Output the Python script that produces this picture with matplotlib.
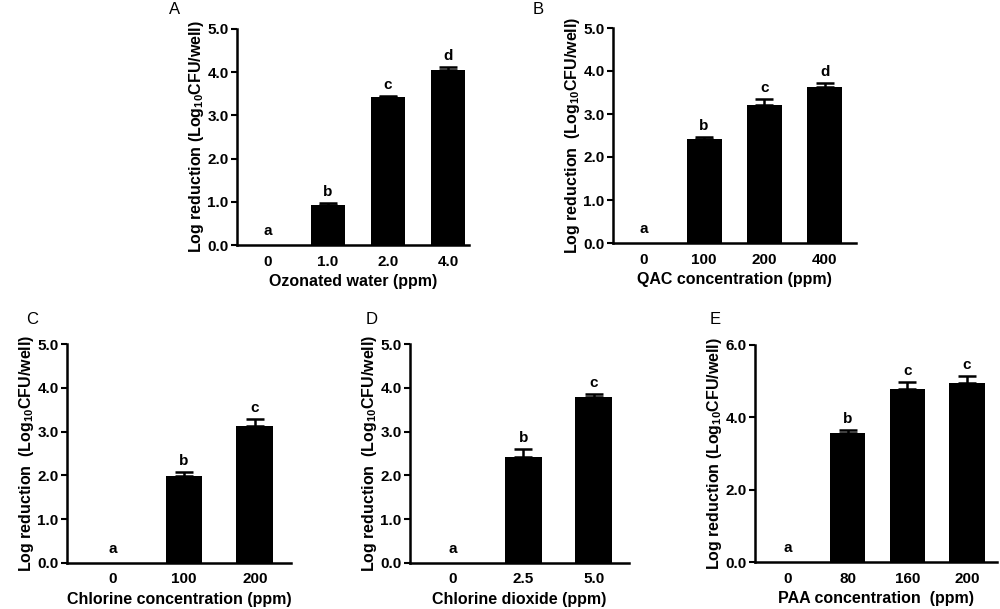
import matplotlib
matplotlib.use("Agg")
import matplotlib.pyplot as plt
import numpy as np

plt.rcParams['font.family'] = ['Liberation Sans', 'DejaVu Sans']
plt.rcParams['font.weight'] = 'bold'
plt.rcParams['mathtext.fontset'] = 'custom'
plt.rcParams['mathtext.rm'] = 'Liberation Sans:bold'
plt.rcParams['mathtext.bf'] = 'Liberation Sans:bold'

# panel data
cats_A = ['0', '1.0', '2.0', '4.0']
mean_A = [0, 0.93, 3.42, 4.06]
err_A = [0, 0.05, 0.03, 0.07]
sig_A = ['a', 'b', 'c', 'd']

cats_B = ['0', '100', '200', '400']
mean_B = [0, 2.43, 3.22, 3.62]
err_B = [0, 0.04, 0.12, 0.09]
sig_B = ['a', 'b', 'c', 'd']

cats_C = ['0', '100', '200']
mean_C = [0, 1.99, 3.13]
err_C = [0, 0.08, 0.15]
sig_C = ['a', 'b', 'c']

cats_D = ['0', '2.5', '5.0']
mean_D = [0, 2.41, 3.80]
err_D = [0, 0.20, 0.06]
sig_D = ['a', 'b', 'c']

cats_E = ['0', '80', '160', '200']
mean_E = [0, 3.58, 4.77, 4.96]
err_E = [0, 0.06, 0.20, 0.18]
sig_E = ['a', 'b', 'c', 'c']

W, H = 1000, 609
fig = plt.figure(figsize=(10, 6.09), dpi=100)


def panel(px_left, px_right, px_y0, px_ytop, xlim, width, cats, means, errs, sig,
          ymax, ystep, xlabel, ylabel, letter, letter_xy):
    ax = fig.add_axes([px_left / W, 1 - px_y0 / H, (px_right - px_left) / W, (px_y0 - px_ytop) / H])
    x = np.arange(len(cats))
    ax.bar(x, means, width=width, color='black', linewidth=0)
    for xi, m, e, s in zip(x, means, errs, sig):
        if e > 0:
            ax.errorbar(xi, m, yerr=[[0], [e]], fmt='none', ecolor='black',
                        elinewidth=1.8, capsize=6.5, capthick=1.8)
        off = 4 if m > 0 else 7
        ax.annotate(s, (xi, m + e), xytext=(0, off), textcoords='offset pixels',
                    ha='center', va='bottom', fontsize=11, fontweight='bold')
    ax.set_xlim(*xlim)
    ax.set_ylim(0, ymax)
    ax.set_yticks(np.arange(0, ymax + 0.01, ystep))
    ax.set_yticklabels(['%.1f' % v for v in np.arange(0, ymax + 0.01, ystep)])
    ax.set_xticks(x)
    ax.set_xticklabels(cats)
    ax.tick_params(axis='x', length=0, pad=7, labelsize=11)
    ax.tick_params(axis='y', length=4, width=1.5, pad=2, labelsize=11, direction='out')
    for sp in ['top', 'right']:
        ax.spines[sp].set_visible(False)
    for sp in ['left', 'bottom']:
        ax.spines[sp].set_linewidth(1.8)
    ax.set_xlabel(xlabel, fontsize=11.5, fontweight='bold', labelpad=4)
    ax.set_ylabel(ylabel, fontsize=11.5, fontweight='bold', labelpad=1)
    fig.text(letter_xy[0] / W, 1 - letter_xy[1] / H, letter, fontsize=12,
             fontweight='normal', ha='center', va='center')
    return ax


ylab1 = r'Log reduction (Log$_{10}$CFU/well)'
ylab2 = r'Log reduction  (Log$_{10}$CFU/well)'

panel(237, 469, 245, 29, (-0.517, 3.35), 0.58, cats_A, mean_A, err_A, sig_A,
      5.0, 1.0, 'Ozonated water (ppm)', ylab1, 'A', (175, 10))
panel(613, 856, 243, 28, (-0.51, 3.52), 0.58, cats_B, mean_B, err_B, sig_B,
      5.0, 1.0, 'QAC concentration (ppm)', ylab2, 'B', (538, 10))
panel(67, 291, 562.7, 344.3, (-0.65, 2.51), 0.52, cats_C, mean_C, err_C, sig_C,
      5.0, 1.0, 'Chlorine concentration (ppm)', ylab2, 'C', (32, 320))
panel(410, 629, 562.7, 344.3, (-0.61, 2.50), 0.53, cats_D, mean_D, err_D, sig_D,
      5.0, 1.0, 'Chlorine dioxide (ppm)', ylab2, 'D', (372, 320))
panel(755, 997, 562, 345, (-0.55, 3.5), 0.59, cats_E, mean_E, err_E, sig_E,
      6.0, 2.0, 'PAA concentration  (ppm)', ylab1, 'E', (715, 320))

fig.savefig('out.png', dpi=100)
